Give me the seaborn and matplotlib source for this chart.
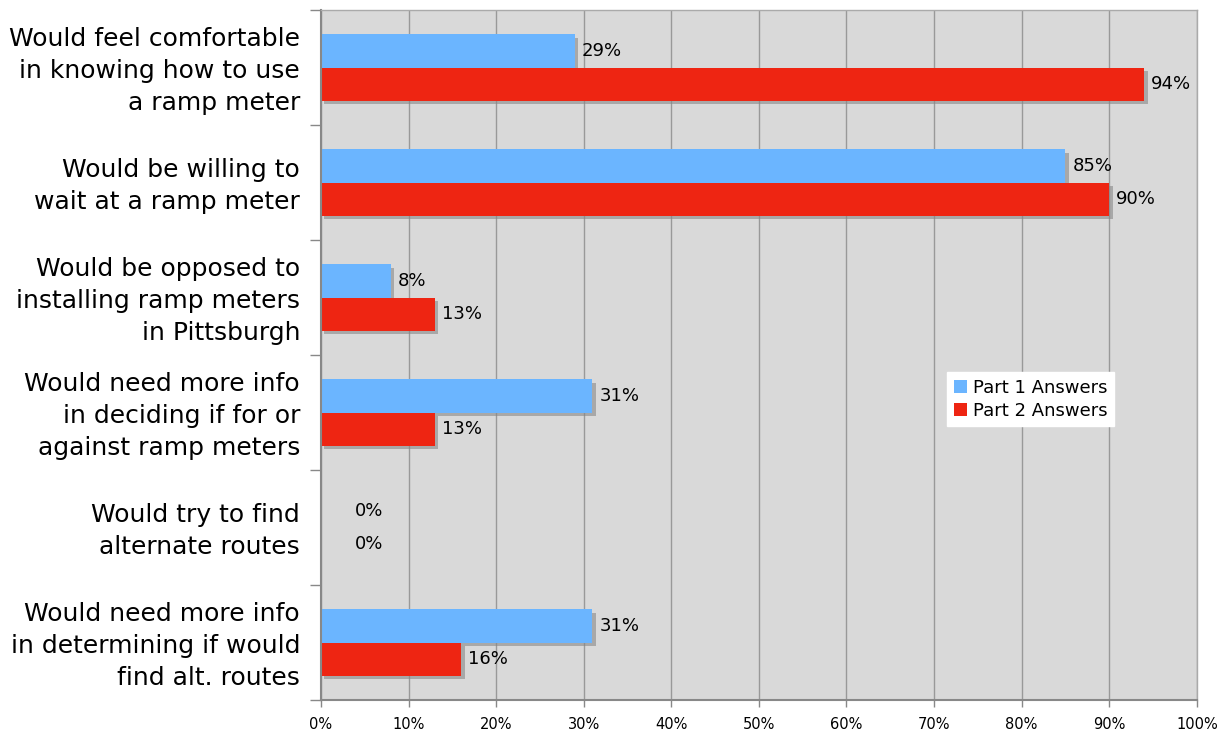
import matplotlib
matplotlib.use("Agg")
import matplotlib.pyplot as plt
import matplotlib.patheffects as pe
import matplotlib.transforms as mtransforms
import seaborn as sns
import pandas as pd
import numpy as np

questions = [
    "Would feel comfortable\nin knowing how to use\na ramp meter",
    "Would be willing to\nwait at a ramp meter",
    "Would be opposed to\ninstalling ramp meters\nin Pittsburgh",
    "Would need more info\nin deciding if for or\nagainst ramp meters",
    "Would try to find\nalternate routes",
    "Would need more info\nin determining if would\nfind alt. routes",
]
series = ["Part 1 Answers", "Part 2 Answers"]
part1 = [29, 85, 8, 31, 0, 31]
part2 = [94, 90, 13, 13, 0, 16]
colors = ["#6bb5ff", "#ee2512"]
xticks = [0, 10, 20, 30, 40, 50, 60, 70, 80, 90, 100]

df = pd.DataFrame({
    "question": questions * 2,
    "series": [series[0]] * len(questions) + [series[1]] * len(questions),
    "value": part1 + part2,
})

sns.set_theme(style="white")
plt.rcParams["font.family"] = ["DejaVu Sans"]
plt.rcParams["text.color"] = "black"
plt.rcParams["xtick.color"] = "#888888"
plt.rcParams["ytick.color"] = "#888888"
plt.rcParams["xtick.labelcolor"] = "black"
plt.rcParams["ytick.labelcolor"] = "black"

fig = plt.figure(figsize=(12.25, 7.32), dpi=100)
ax = fig.add_axes([0.262, 0.0437, 0.715, 0.9426])
ax.set_facecolor("#d9d9d9")

sns.barplot(data=df, x="value", y="question", hue="series", orient="y",
            palette=colors, width=0.575, ax=ax, saturation=1, linewidth=0,
            order=questions, hue_order=series, legend=True)

shadow = [pe.SimplePatchShadow(offset=(2.5, -2.5), shadow_rgbFace="#888888", alpha=0.6), pe.Normal()]
for cont in ax.containers:
    for bar in cont:
        bar.set_path_effects(shadow)
        w = bar.get_width()
        yc = bar.get_y() + bar.get_height() / 2
        off = 7 if w > 0 else 34
        ax.annotate(f"{w:.0f}%", (w, yc), xytext=(off, 0), textcoords="offset pixels",
                    va="center", ha="left", fontsize=13, color="black")

ax.set_xlim(0, 100)
ax.set_ylim(len(questions) - 0.5, -0.5)
ax.set_xticks(xticks)
ax.set_xticklabels([f"{t}%" for t in xticks], fontsize=10.5)
ax.set_yticks(range(len(questions)))
ax.set_yticklabels(questions, fontsize=18, ha="right", multialignment="right",
                   linespacing=1.42)
ax.tick_params(axis="y", which="major", length=0, pad=15)
shift = mtransforms.ScaledTranslation(0, 3 / 100, fig.dpi_scale_trans)
for lab in ax.get_yticklabels():
    lab.set_transform(lab.get_transform() + shift)
ax.set_yticks(np.arange(-0.5, len(questions), 1), minor=True)
ax.tick_params(axis="y", which="minor", length=8, width=1, color="#888888",
               direction="out", left=True)
ax.tick_params(axis="x", which="major", length=5, width=1, color="#888888",
               direction="out", pad=7, bottom=True)
ax.set_xlabel("")
ax.set_ylabel("")
ax.xaxis.grid(True, color="#999999", linewidth=1)
ax.set_axisbelow(True)
for s in ["left", "bottom"]:
    ax.spines[s].set_color("#888888")
    ax.spines[s].set_linewidth(1.5)
for s in ["top", "right"]:
    ax.spines[s].set_color("#aaaaaa")
    ax.spines[s].set_linewidth(1)

leg = ax.legend(loc="upper left", bbox_to_anchor=(0.715, 0.475), fontsize=13,
                frameon=True, facecolor="white", edgecolor="white", framealpha=1,
                handlelength=0.75, handleheight=0.75, handletextpad=0.35,
                borderpad=0.35, labelspacing=0.3, fancybox=False,
                borderaxespad=0)

fig.savefig("out.png", dpi=100)
